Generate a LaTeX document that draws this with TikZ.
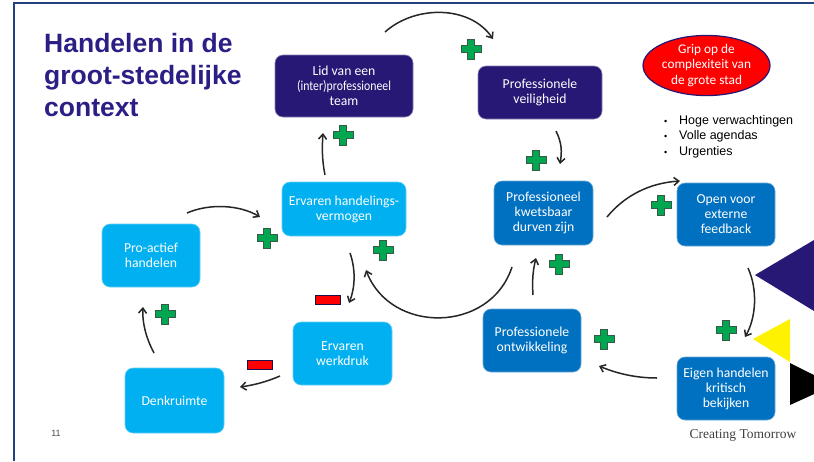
\documentclass[tikz,border=0pt]{standalone}
\usepackage{fontspec}
\setmainfont{Carlito}
\newfontfamily\arialf{Liberation Sans}
\newfontfamily\seriff{Liberation Serif}
\usetikzlibrary{arrows.meta,shapes.geometric}
\definecolor{dpurple}{HTML}{261874}
\definecolor{ttl}{HTML}{2B1F86}
\definecolor{lblue}{HTML}{00B0F0}
\definecolor{mblue}{HTML}{0070C0}
\definecolor{pgreen}{HTML}{00A650}
\definecolor{pedge}{HTML}{3A5A48}
\definecolor{frameblue}{HTML}{23407F}
\begin{document}
\begin{tikzpicture}[x=1pt,y=-1pt,
  box/.style={rounded corners=8pt, align=center, text=white, inner sep=0pt,
    font=\fontsize{13.7}{15}\selectfont, line width=0.6pt},
  dbox/.style={box, fill=dpurple, draw=dpurple!55!white},
  lbox/.style={box, fill=lblue, draw=lblue!60!white},
  mbox/.style={box, fill=mblue, draw=mblue!60!white},
  conn/.style={-{Straight Barb[length=5pt,width=8pt]}, line width=1.5pt, draw=black!85},
  plus/.pic={\filldraw[fill=pgreen, draw=pedge, line width=0.9pt]
      (-3.6,-10) -- (3.6,-10) -- (3.6,-3.6) -- (10,-3.6) -- (10,3.6) -- (3.6,3.6)
      -- (3.6,10) -- (-3.6,10) -- (-3.6,3.6) -- (-10,3.6) -- (-10,-3.6) -- (-3.6,-3.6) -- cycle;},
  minus/.pic={\filldraw[fill=red, draw=dpurple!70!black, line width=0.8pt]
      (-12.5,-4.2) rectangle (12.5,4.2);}]
\useasboundingbox (0,0) rectangle (814,461);
\clip (0,0) rectangle (814,461);
\fill[white] (0,0) rectangle (814,461);

% frame
\draw[frameblue, line width=2pt] (13.5,461) -- (13.5,3) -- (814,3);

% title
\node[anchor=north west, inner sep=0pt, align=left, text=ttl,
  font=\arialf\bfseries\fontsize{26.5}{32}\selectfont] (title) at (44,33)
  {Handelen in de\\groot-stedelijke\\context};

% boxes
\node[dbox, minimum width=138pt, minimum height=62pt] (lid) at (344,86)
  {Lid van een\\\scalebox{0.86}[1]{(inter)professioneel}\\team};
\node[dbox, minimum width=124pt, minimum height=53pt] (vei) at (540,92.5)
  {Professionele\\veiligheid};
\node[lbox, minimum width=124pt, minimum height=54pt] (erv) at (344,209)
  {Ervaren handelings-\\vermogen};
\node[lbox, minimum width=98pt, minimum height=63pt] (pro) at (151,255.5)
  {Pro-actief\\handelen};
\node[mbox, minimum width=99pt, minimum height=64pt] (kwe) at (543.5,213)
  {Professioneel\\kwetsbaar\\durven zijn};
\node[mbox, minimum width=98pt, minimum height=63pt] (ope) at (726,214.5)
  {Open voor\\externe\\feedback};
\node[lbox, minimum width=99pt, minimum height=63pt] (wer) at (342.5,353.5)
  {Ervaren\\werkdruk};
\node[lbox, minimum width=99pt, minimum height=65pt] (den) at (174.5,400.5)
  {Denkruimte};
\node[mbox, minimum width=98pt, minimum height=63pt] (ont) at (532,340.5)
  {Professionele\\ontwikkeling};
\node[mbox, minimum width=98pt, minimum height=63pt] (eig) at (726,388.5)
  {Eigen handelen\\kritisch\\bekijken};

% ellipse
\node[ellipse, fill=red, draw=dpurple, line width=1.2pt, minimum width=127pt,
  minimum height=59pt, inner sep=0pt, align=center, text=white,
  font=\fontsize{13.3}{15.5}\selectfont] (grip) at (706.5,65.5)
  {Grip op de\\complexiteit van\\de grote stad};

% bullets
\node[anchor=north west, inner sep=0pt, align=left,
  font=\arialf\fontsize{12.5}{15.7}\selectfont] (bul) at (664,115)
  {\makebox[15pt][l]{\fontsize{9}{9}\selectfont\textbullet}Hoge verwachtingen\\
   \makebox[15pt][l]{\fontsize{9}{9}\selectfont\textbullet}Volle agendas\\
   \makebox[15pt][l]{\fontsize{9}{9}\selectfont\textbullet}Urgenties};

% triangles
\fill[dpurple] (755,275) -- (814,240) -- (814,311) -- cycle;
\fill[yellow] (753,339) -- (790,319) -- (790,362) -- cycle;
\fill[black] (790,363) -- (834,385) -- (790,405) -- cycle;

% footer texts
\node[font=\arialf\fontsize{9}{10}\selectfont, text=black!70] (pnum) at (56,433) {11};
\node[font=\seriff\fontsize{13.5}{15}\selectfont, text=black!75] (ct) at (743,435) {Creating Tomorrow};

% connector end points
\coordinate (c1s) at (385,32);   \coordinate (c1e) at (493,39);
\coordinate (c2s) at (556,131);  \coordinate (c2e) at (560,164);
\coordinate (c3s) at (607,217);  \coordinate (c3e) at (680,181);
\coordinate (c4s) at (748,268);  \coordinate (c4e) at (745,337);
\coordinate (c5s) at (657,378);  \coordinate (c5e) at (599,366);
\coordinate (c6s) at (533,295);  \coordinate (c6e) at (536,258);
\coordinate (c7s) at (512,267);  \coordinate (c7e) at (366,270);
\coordinate (c8s) at (350,253);  \coordinate (c8e) at (349,303);
\coordinate (c9s) at (280,376);  \coordinate (c9e) at (240,387);
\coordinate (c10s) at (154,353); \coordinate (c10e) at (143,307);
\coordinate (c11s) at (187,213); \coordinate (c11e) at (260,217);
\coordinate (c12s) at (325,175); \coordinate (c12e) at (323,133);

% connectors
\draw[conn] (c1s) .. controls (415,5) and (470,5) .. (c1e);
\draw[conn] (c2s) .. controls (562,143) and (562,152) .. (c2e);
\draw[conn] (c3s) .. controls (625,195) and (650,183) .. (c3e);
\draw[conn] (c4s) .. controls (758,290) and (756,318) .. (c4e);
\draw[conn] (c5s) .. controls (637,378) and (618,374) .. (c5e);
\draw[conn] (c6s) .. controls (532,280) and (533,270) .. (c6e);
\draw[conn] (c7s) .. controls (490,334) and (390,334) .. (c7e);
\draw[conn] (c8s) .. controls (356,270) and (355,288) .. (c8e);
\draw[conn] (c9s) .. controls (266,382) and (254,385) .. (c9e);
\draw[conn] (c10s) .. controls (146,338) and (142,322) .. (c10e);
\draw[conn] (c11s) .. controls (210,203) and (240,205) .. (c11e);
\draw[conn] (c12s) .. controls (322,160) and (322,148) .. (c12e);

% signs
\pic at (471,49) {plus};
\pic at (343,135) {plus};
\pic at (536,160) {plus};
\pic at (661,205) {plus};
\pic at (267,238) {plus};
\pic at (383,250) {plus};
\pic at (559,264) {plus};
\pic at (604,339) {plus};
\pic at (726,330) {plus};
\pic at (165,314) {plus};
\pic at (328,300) {minus};
\pic at (260,365) {minus};
\end{tikzpicture}
\end{document}
